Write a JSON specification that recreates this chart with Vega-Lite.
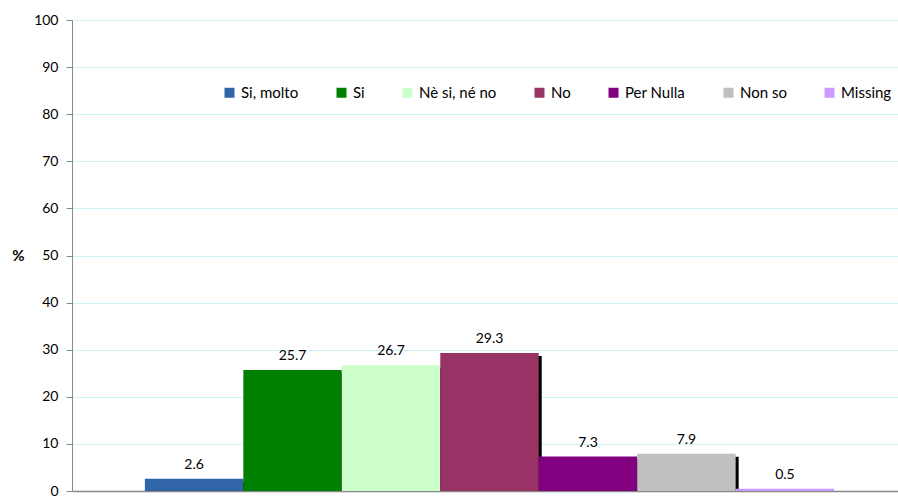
{
  "$schema": "https://vega.github.io/schema/vega-lite/v6.json",
  "width": 826,
  "height": 471,
  "autosize": {"type": "none"},
  "padding": {"left": 72, "top": 20, "right": 0, "bottom": 5},
  "background": "white",
  "config": {
    "view": {"stroke": null},
    "font": "Lato"
  },
  "data": {
    "values": [
      {"risposta": "Si, molto", "pct": 2.6},
      {"risposta": "Si", "pct": 25.7},
      {"risposta": "Nè si, né no", "pct": 26.7},
      {"risposta": "No", "pct": 29.3},
      {"risposta": "Per Nulla", "pct": 7.3},
      {"risposta": "Non so", "pct": 7.9},
      {"risposta": "Missing", "pct": 0.5}
    ]
  },
  "encoding": {
    "x": {
      "field": "risposta",
      "type": "nominal",
      "sort": null,
      "scale": {"range": [0, 835], "paddingInner": 0, "paddingOuter": 0.74},
      "axis": {"labels": false, "ticks": false, "title": null, "domainColor": "#888888", "domainWidth": 1.5}
    },
    "y": {
      "field": "pct",
      "type": "quantitative",
      "scale": {"domain": [0, 100]},
      "axis": {
        "values": [0, 10, 20, 30, 40, 50, 60, 70, 80, 90, 100],
        "title": "%",
        "titleAngle": 0,
        "titleX": -54,
        "titleY": 235,
        "titleAlign": "center",
        "titleBaseline": "middle",
        "titleFontSize": 15,
        "titleFontWeight": "bold",
        "titleColor": "#000000",
        "labelFontSize": 14,
        "labelColor": "#000000",
        "labelPadding": 8,
        "tickSize": 6,
        "tickColor": "#888888",
        "domainColor": "#888888",
        "gridColor": "#ccf6f6",
        "gridWidth": 1
      }
    }
  },
  "layer": [
    {
      "mark": {"type": "bar", "color": "#000000", "xOffset": 3, "yOffset": 3, "clip": true}
    },
    {
      "mark": {"type": "bar"},
      "encoding": {
        "color": {
          "field": "risposta",
          "type": "nominal",
          "sort": null,
          "scale": {
            "domain": ["Si, molto", "Si", "Nè si, né no", "No", "Per Nulla", "Non so", "Missing"],
            "range": ["#3065a8", "#008000", "#ccffcc", "#993366", "#800080", "#c0c0c0", "#cc99ff"]
          },
          "legend": {
            "title": null,
            "orient": "none",
            "legendX": 150,
            "legendY": 65,
            "direction": "horizontal",
            "columns": 7,
            "columnPadding": 35,
            "symbolType": "square",
            "symbolSize": 100,
            "symbolStrokeWidth": 0,
            "labelFontSize": 15,
            "labelColor": "#000000",
            "labelOffset": 4,
            "labelLimit": 200
          }
        }
      }
    },
    {
      "mark": {"type": "text", "baseline": "bottom", "dy": -7, "fontSize": 14, "color": "#000000"},
      "encoding": {
        "text": {"field": "pct", "type": "quantitative", "format": ".1f"}
      }
    }
  ]
}
